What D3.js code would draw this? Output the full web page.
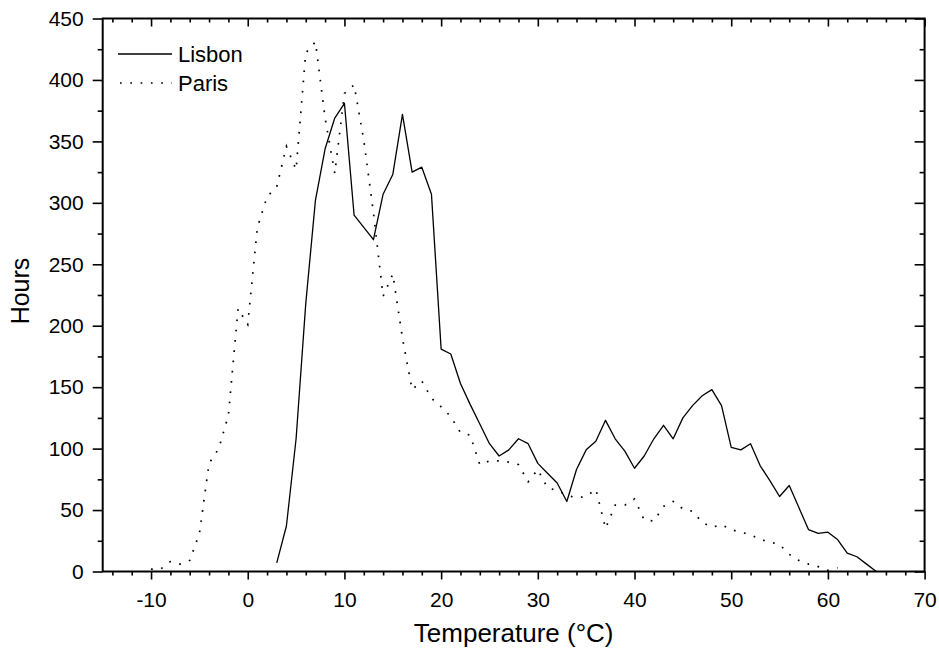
<!DOCTYPE html>
<html>
<head>
<meta charset="utf-8">
<script src="https://cdn.jsdelivr.net/npm/d3@7"></script>
<style>
  html, body { margin: 0; padding: 0; background: #fff; }
  svg { display: block; font-family: "Liberation Sans", Arial, sans-serif; }
</style>
</head>
<body>
<svg id="chart" width="939" height="652"></svg>
<script>
// ---- data ----
const lisbonTemp = [3,4,5,6,7,8,9,10,11,12,13,14,15,16,17,18,19,20,21,22,23,24,25,26,27,28,29,30,31,32,33,34,35,36,37,38,39,40,41,42,43,44,45,46,47,48,49,50,51,52,53,54,55,56,57,58,59,60,61,62,63,64,65];
const lisbonHours = [7,37,108,218,302,344,369,381,290,280,270,307,323,372,325,329,307,181,177,153,136,120,104,94,99,108,104,88,80,72,57,83,99,106,123,108,98,84,94,108,119,108,125,135,143,148,135,101,99,104,86,74,61,70,52,34,31,32,26,15,12,6,0];

const parisTemp = [-10,-9,-8,-7,-6,-5,-4,-3,-2,-1,0,1,2,3,4,5,6,7,8,9,10,11,12,13,14,15,16,17,18,19,20,21,22,23,24,25,26,27,28,29,30,31,32,33,34,35,36,37,38,39,40,41,42,43,44,45,46,47,48,49,50,51,52,53,54,55,56,57,58,59,60,61];
const parisHours = [2,2,8,6,9,31,88,100,127,214,201,280,305,313,346,327,422,431,369,324,389,396,351,292,224,242,190,148,155,141,134,126,113,111,87,90,90,89,87,73,83,68,66,62,60,61,67,35,54,54,59,42,41,53,57,51,49,40,36,38,34,32,30,26,24,22,14,9,6,4,1,3];

const seriesNames = ["Lisbon", "Paris"];
const xMajorTicks = [-10,0,10,20,30,40,50,60,70];
const yMajorTicks = [0,50,100,150,200,250,300,350,400,450];
const xLabel = "Temperature (°C)";
const yLabel = "Hours";

// ---- layout ----
const svg = d3.select("#chart");
const x0 = 102.7, x1 = 924.6, y0 = 571.5, y1 = 18.5;
const x = d3.scaleLinear().domain([-15, 70]).range([x0, x1]);
const y = d3.scaleLinear().domain([0, 450]).range([y0, y1]);

const xMinor = d3.range(-14, 70, 2).filter(v => v % 10 !== 0);
const yMinor = d3.range(25, 450, 50);

const tickFont = "21px";
const fmt = d => String(d);

function styleAxis(g) {
  g.select(".domain").remove();
  g.selectAll(".tick line").attr("stroke", "#000").attr("stroke-width", 1.6);
  g.selectAll(".tick text").attr("fill", "#000").style("font-size", tickFont);
}

// bottom axis
svg.append("g").attr("transform", `translate(0,${y0})`)
  .call(d3.axisBottom(x).tickValues(xMinor).tickSize(4).tickFormat(""))
  .call(styleAxis);
svg.append("g").attr("transform", `translate(0,${y0})`)
  .call(d3.axisBottom(x).tickValues(xMajorTicks).tickSize(8).tickPadding(13).tickFormat(fmt))
  .call(styleAxis);
// top axis (inward)
svg.append("g").attr("transform", `translate(0,${y1})`)
  .call(d3.axisBottom(x).tickValues(xMinor).tickSize(4).tickFormat(""))
  .call(styleAxis);
svg.append("g").attr("transform", `translate(0,${y1})`)
  .call(d3.axisBottom(x).tickValues(xMajorTicks).tickSize(8).tickFormat(""))
  .call(styleAxis);
// left axis
svg.append("g").attr("transform", `translate(${x0},0)`)
  .call(d3.axisLeft(y).tickValues(yMinor).tickSize(5).tickFormat(""))
  .call(styleAxis);
svg.append("g").attr("transform", `translate(${x0},0)`)
  .call(d3.axisLeft(y).tickValues(yMajorTicks).tickSize(10).tickPadding(9).tickFormat(fmt))
  .call(styleAxis);
// right axis (inward)
svg.append("g").attr("transform", `translate(${x1},0)`)
  .call(d3.axisLeft(y).tickValues(yMinor).tickSize(5).tickFormat(""))
  .call(styleAxis);
svg.append("g").attr("transform", `translate(${x1},0)`)
  .call(d3.axisLeft(y).tickValues(yMajorTicks).tickSize(10).tickFormat(""))
  .call(styleAxis);

// frame
svg.append("rect")
  .attr("x", x0).attr("y", y1).attr("width", x1 - x0).attr("height", y0 - y1)
  .attr("fill", "none").attr("stroke", "#000").attr("stroke-width", 2);

// lines
const line = d3.line().x(d => x(d[0])).y(d => y(d[1]));
const lisbon = lisbonTemp.map((t, i) => [t, lisbonHours[i]]);
const paris = parisTemp.map((t, i) => [t, parisHours[i]]);

svg.append("path").datum(lisbon).attr("d", line)
  .attr("fill", "none").attr("stroke", "#000").attr("stroke-width", 1.3)
  .attr("stroke-linejoin", "round");
svg.append("path").datum(paris).attr("d", line)
  .attr("fill", "none").attr("stroke", "#000").attr("stroke-width", 1.7)
  .attr("stroke-dasharray", "1.7 8.6");

// legend
const leg = svg.append("g");
leg.append("line").attr("x1", 118).attr("x2", 172).attr("y1", 54).attr("y2", 54)
  .attr("stroke", "#000").attr("stroke-width", 1.3);
leg.append("text").attr("x", 178).attr("y", 54).attr("dy", "0.35em")
  .style("font-size", "22px").text(seriesNames[0]);
leg.append("line").attr("x1", 120).attr("x2", 172).attr("y1", 83).attr("y2", 83)
  .attr("stroke", "#000").attr("stroke-width", 1.7).attr("stroke-dasharray", "1.7 8.6");
leg.append("text").attr("x", 178).attr("y", 83).attr("dy", "0.35em")
  .style("font-size", "22px").text(seriesNames[1]);

// axis titles
svg.append("text").attr("x", (x0 + x1) / 2).attr("y", 642)
  .attr("text-anchor", "middle").style("font-size", "26px").text(xLabel);
svg.append("text").attr("transform", `translate(29,${(y0 + y1) / 2 - 4}) rotate(-90)`)
  .attr("text-anchor", "middle").style("font-size", "25px").text(yLabel);
</script>
</body>
</html>
